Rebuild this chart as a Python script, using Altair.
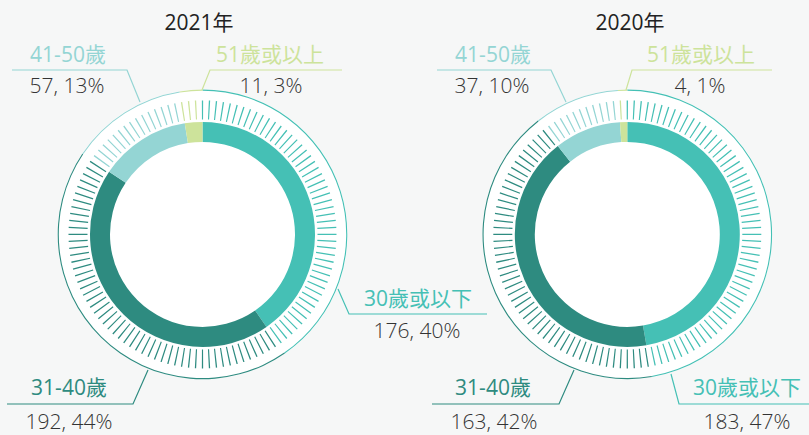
import math
import altair as alt
import pandas as pd

# ---------------- data ----------------
years = ["2021年", "2020年"]
categories = ["30歲或以下", "31-40歲", "41-50歲", "51歲或以上"]
counts_2021 = [176, 192, 57, 11]
counts_2020 = [183, 163, 37, 4]
pcts_2021 = ["40%", "44%", "13%", "3%"]
pcts_2020 = ["47%", "42%", "10%", "1%"]

# ---------------- styles / layout ----------------
palette = ["#45c0b5", "#2e8b80", "#94d5d4", "#cde39b"]
FONT = "'Open Sans', 'Noto Sans CJK TC', sans-serif"
CENTER = {"2021年": (202.5, 234.4), "2020年": (627.3, 234.4)}
TITLE_POS = {"2021年": (199, 30), "2020年": (630, 30)}
# (label x, label baseline, value x, value baseline)
LABEL_POS = {
    ("2021年", "41-50歲"): (68, 62, 67, 93),
    ("2021年", "51歲或以上"): (270, 62, 271, 93),
    ("2021年", "30歲或以下"): (418, 306, 417, 338),
    ("2021年", "31-40歲"): (69, 395, 69, 429),
    ("2020年", "41-50歲"): (493, 62, 492, 93),
    ("2020年", "51歲或以上"): (701, 62, 700, 93),
    ("2020年", "31-40歲"): (493, 395, 494, 429),
    ("2020年", "30歲或以下"): (747, 395, 747, 429),
}
LEADERS = {
    ("2021年", "41-50歲"): [(140, 102), (127, 70), (12, 70)],
    ("2021年", "51歲或以上"): [(202, 90), (210, 70), (342, 70)],
    ("2021年", "30歲或以下"): [(338, 289), (349, 314), (487, 314)],
    ("2021年", "31-40歲"): [(148, 370), (133, 404), (7, 404)],
    ("2020年", "41-50歲"): [(566, 102), (551, 70), (437, 70)],
    ("2020年", "51歲或以上"): [(626, 90), (632, 70), (772, 70)],
    ("2020年", "31-40歲"): [(574, 370), (559, 404), (432, 404)],
    ("2020年", "30歲或以下"): [(671, 374), (679, 404), (809, 404)],
}
N_TICKS = 120
TICK_HALF = 0.28 / 360

# ---------------- tables ----------------
seg_rows, label_rows = [], []
bounds = {}
for year, counts, pcts in zip(years, [counts_2021, counts_2020], [pcts_2021, pcts_2020]):
    total = sum(counts)
    cum = 0
    cx, cy = CENTER[year]
    bounds[year] = []
    for cat, v, p in zip(categories, counts, pcts):
        t0, t1 = cum / total, (cum + v) / total
        seg_rows.append(dict(year=year, cat=cat, t0=t0, t1=t1, cx=cx, cy=cy))
        bounds[year].append((cat, t0, t1))
        lx, ly, vx, vy = LABEL_POS[(year, cat)]
        label_rows.append(dict(year=year, cat=cat, lx=lx, ly=ly, vx=vx, vy=vy,
                               vtext=f"{v}, {p}"))
        cum += v
seg_df = pd.DataFrame(seg_rows)
label_df = pd.DataFrame(label_rows)

tick_rows = []
for year in years:
    cx, cy = CENTER[year]
    for k in range(N_TICKS):
        a = k / N_TICKS
        cat = next(c for c, t0, t1 in bounds[year] if t0 <= a < t1)
        tick_rows.append(dict(year=year, cat=cat, t0=a - TICK_HALF, t1=a + TICK_HALF, cx=cx, cy=cy))
tick_df = pd.DataFrame(tick_rows)

disk_df = pd.DataFrame([dict(year=y, t0=0.0, t1=1.0, cx=CENTER[y][0], cy=CENTER[y][1]) for y in years])

lead_rows = []
for (year, cat), pts in LEADERS.items():
    for i, (px, py) in enumerate(pts):
        lead_rows.append(dict(lid=f"{year}-{cat}", cat=cat, o=i, px=px, py=py))
lead_df = pd.DataFrame(lead_rows)

title_df = pd.DataFrame([dict(t=y, tx=TITLE_POS[y][0], ty=TITLE_POS[y][1]) for y in years])

# ---------------- encodings ----------------
color = alt.Color("cat:N", scale=alt.Scale(domain=categories, range=palette), legend=None)
theta = alt.Theta("t0:Q", scale=alt.Scale(domain=[0, 1], range=[0, 2 * math.pi]))
theta2 = alt.Theta2("t1:Q")
X = alt.X("cx:Q", scale=None, axis=None)
Y = alt.Y("cy:Q", scale=None, axis=None)

disk = alt.Chart(disk_df).mark_arc(radius=145, color="white").encode(
    x=X, y=Y, theta=theta, theta2=theta2)
outer = alt.Chart(seg_df).mark_arc(radius=144.8, radius2=143.7).encode(
    x=X, y=Y, theta=theta, theta2=theta2, color=color)
ticks = alt.Chart(tick_df).mark_arc(radius=134, radius2=115).encode(
    x=X, y=Y, theta=theta, theta2=theta2, color=color)
ring = alt.Chart(seg_df).mark_arc(radius=112.5, radius2=92.5).encode(
    x=X, y=Y, theta=theta, theta2=theta2, color=color)

leaders = alt.Chart(lead_df).mark_line(strokeWidth=1.2).encode(
    x=alt.X("px:Q", scale=None, axis=None),
    y=alt.Y("py:Q", scale=None, axis=None),
    detail="lid:N", order="o:Q", color=color)

labels = alt.Chart(label_df).mark_text(
    font=FONT, fontSize=21, fontWeight=400, align="center", baseline="alphabetic"
).encode(
    x=alt.X("lx:Q", scale=None, axis=None),
    y=alt.Y("ly:Q", scale=None, axis=None),
    text="cat:N", color=color)

values = alt.Chart(label_df).mark_text(
    font=FONT, fontSize=21, fontWeight=300, color="#333333", align="center", baseline="alphabetic"
).encode(
    x=alt.X("vx:Q", scale=None, axis=None),
    y=alt.Y("vy:Q", scale=None, axis=None),
    text="vtext:N")

titles = alt.Chart(title_df).mark_text(
    font=FONT, fontSize=21, color="#222222", align="center", baseline="alphabetic"
).encode(
    x=alt.X("tx:Q", scale=None, axis=None),
    y=alt.Y("ty:Q", scale=None, axis=None),
    text="t:N")

chart = alt.layer(disk, outer, ticks, ring, leaders, labels, values, titles).properties(
    width=809, height=435, autosize="none", padding=0, background="#f6f7f7"
).configure_view(stroke=None)

chart.save("out.html", embed_options={"renderer": "svg", "actions": False})
